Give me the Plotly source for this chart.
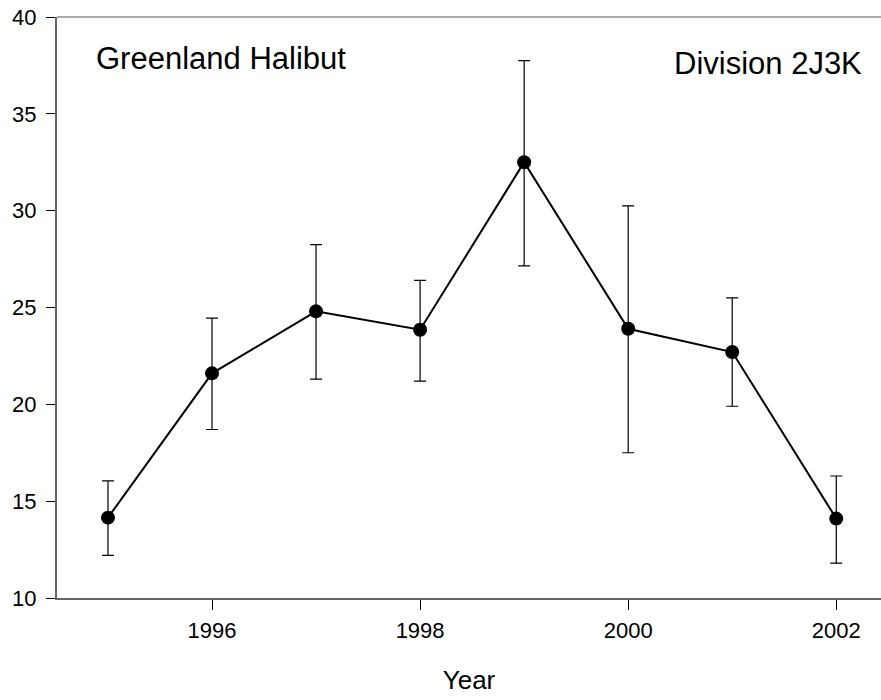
import plotly.graph_objects as go

years = [1995, 1996, 1997, 1998, 1999, 2000, 2001, 2002]
values = [14.15, 21.6, 24.8, 23.85, 32.5, 23.9, 22.7, 14.1]
upper = [16.05, 24.45, 28.25, 26.4, 37.75, 30.25, 25.5, 16.3]
lower = [12.2, 18.7, 21.3, 21.2, 27.15, 17.5, 19.9, 11.8]

err_plus = [u - v for u, v in zip(upper, values)]
err_minus = [v - l for v, l in zip(values, lower)]

x_ticks = [1996, 1998, 2000, 2002]
y_ticks = [10, 15, 20, 25, 30, 35, 40]

FONT = "Liberation Sans, Arial, sans-serif"

fig = go.Figure()
fig.add_trace(go.Scatter(
    x=years, y=values, mode="lines+markers",
    line=dict(color="black", width=2),
    marker=dict(color="black", size=14),
    error_y=dict(type="data", symmetric=False, array=err_plus, arrayminus=err_minus,
                 color="black", thickness=1.2, width=6),
    showlegend=False,
))

fig.add_annotation(text="Greenland Halibut", xref="paper", yref="paper",
                   x=0.045, y=0.929, xanchor="left", yanchor="middle",
                   showarrow=False, font=dict(family=FONT, size=31, color="black"))
fig.add_annotation(text="Division 2J3K", xref="paper", yref="paper",
                   x=0.979, y=0.92, xanchor="right", yanchor="middle",
                   showarrow=False, font=dict(family=FONT, size=31, color="black"))

fig.add_shape(type="line", xref="paper", yref="paper", x0=0, x1=1, y0=1, y1=1,
              line=dict(color="#555555", width=1.2))

fig.update_layout(
    width=881, height=700,
    margin=dict(l=57, r=0, t=17, b=102),
    plot_bgcolor="white", paper_bgcolor="white",
    font=dict(family=FONT, color="black"),
    xaxis=dict(range=[1994.51, 2002.43], tickvals=x_ticks, ticktext=[str(t) for t in x_ticks],
               showgrid=False, zeroline=False, showline=True, linecolor="#666666", linewidth=2,
               ticks="outside", ticklen=10, tickwidth=1, tickcolor="black",
               tickfont=dict(size=22, family=FONT), ticklabelstandoff=2,
               title=dict(text="Year", font=dict(size=26, family=FONT), standoff=28)),
    yaxis=dict(range=[10, 40], tickvals=y_ticks, showgrid=False, zeroline=False,
               showline=True, linecolor="#666666", linewidth=2,
               ticks="outside", ticklen=9, tickwidth=1, tickcolor="black",
               tickfont=dict(size=22, family=FONT), ticklabelstandoff=5),
)

fig.write_html("out.html")
